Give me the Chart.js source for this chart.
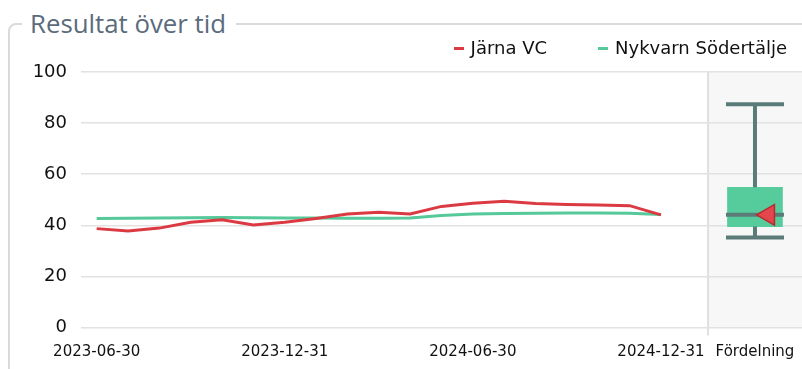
<!DOCTYPE html>
<html lang="sv">
<head>
<meta charset="utf-8">
<title>Resultat över tid</title>
<script src="https://cdn.jsdelivr.net/npm/chart.js@4.4.1/dist/chart.umd.min.js"></script>
<style>
  html, body { margin: 0; padding: 0; background: #fff; overflow: hidden; width: 802px; height: 369px; }
  .frame { position: absolute; left: 8px; top: 23px; width: 1000px; height: 1000px;
           border: 2px solid #dadada; border-radius: 8px; box-sizing: border-box; }
  .frame-title { position: absolute; left: 22px; top: 8px; padding: 0 10px 0 8px; background: #fff;
                 font: 25.8px "Open Sans", sans-serif; line-height: 30px; color: #5b6b7c; white-space: nowrap; }
  #legend { position: absolute; right: 15px; top: 38px; display: flex; gap: 51px;
            font: 18px "DejaVu Sans", sans-serif; line-height: 20px; color: #111; }
  #legend .item { display: flex; align-items: center; white-space: nowrap; }
  #legend .swatch { width: 10px; height: 3px; margin-right: 7px; }
  #wrap { position: absolute; left: 0; top: 0; width: 802px; height: 369px; }
</style>
</head>
<body>
<div class="frame"></div>
<div class="frame-title">Resultat över tid</div>
<div id="wrap"><canvas id="chart"></canvas></div>
<div id="legend"></div>
<script>
// Month-end reporting dates
const dates = [
  '2023-06-30', '2023-07-31', '2023-08-31', '2023-09-30', '2023-10-31', '2023-11-30',
  '2023-12-31', '2024-01-31', '2024-02-29', '2024-03-31', '2024-04-30', '2024-05-31',
  '2024-06-30', '2024-07-31', '2024-08-31', '2024-09-30', '2024-10-31', '2024-11-30',
  '2024-12-31'
];
const jarnaVC = [38.7, 37.8, 38.9, 41.2, 42.2, 40.1, 41.2, 42.7, 44.4, 45.1, 44.4, 47.4,
                 48.6, 49.4, 48.5, 48.1, 47.9, 47.7, 44.1];
const nykvarnSodertalje = [42.7, 42.8, 42.9, 43.0, 43.1, 43.0, 42.9, 42.9, 42.8, 42.8, 42.9, 43.8,
                           44.4, 44.6, 44.7, 44.8, 44.8, 44.7, 44.2];
const tickDates = ['2023-06-30', '2023-12-31', '2024-06-30', '2024-12-31'];
const distLabel = 'Fördelning';
// Distribution across units: min, q1, median, q3, max
const fordelning = [35.2, 39.5, 44.1, 54.9, 87.4];
const yTicks = [0, 20, 40, 60, 80, 100];

// Layout of the x axis (month index units)
const X_MIN = -0.5, X_MAX = 22.5;
const DIVIDER_X = 19.5;      // separates the time series from the distribution panel
const DIST_X = 21;           // centre of the distribution box
const MARKER_OFFSET = 0.43;  // current-value marker sits just right of the box centre

const RED = '#dc3a43', GREEN = '#55c99a', BOX = '#56cc9d', WHISKER = '#5b7b79';

const distributionPanel = {
  id: 'distributionPanel',
  beforeDraw(chart) {
    const { ctx, chartArea: { top, bottom, right }, scales: { x } } = chart;
    const left = x.getPixelForValue(DIVIDER_X);
    ctx.save();
    ctx.fillStyle = '#f7f7f7';
    ctx.fillRect(left, top, right - left, bottom - top);
    ctx.restore();
  }
};

const boxWhiskers = {
  id: 'boxWhiskers',
  afterDatasetDraw(chart, args) {
    if (args.meta.type !== 'bar') return;
    const { ctx, scales: { x, y } } = chart;
    const [mn, q1, med, q3, mx] = fordelning;
    const cx = x.getPixelForValue(DIST_X);
    const half = 29;
    ctx.save();
    ctx.strokeStyle = WHISKER;
    ctx.lineWidth = 4;
    ctx.beginPath();
    ctx.moveTo(cx, y.getPixelForValue(q3)); ctx.lineTo(cx, y.getPixelForValue(mx));
    ctx.moveTo(cx - half, y.getPixelForValue(mx)); ctx.lineTo(cx + half, y.getPixelForValue(mx));
    ctx.moveTo(cx, y.getPixelForValue(q1)); ctx.lineTo(cx, y.getPixelForValue(mn));
    ctx.moveTo(cx - half, y.getPixelForValue(mn)); ctx.lineTo(cx + half, y.getPixelForValue(mn));
    ctx.moveTo(cx - half, y.getPixelForValue(med)); ctx.lineTo(cx + half, y.getPixelForValue(med));
    ctx.stroke();
    ctx.restore();
  }
};

const series = [
  { label: 'Järna VC', values: jarnaVC, color: RED },
  { label: 'Nykvarn Södertälje', values: nykvarnSodertalje, color: GREEN }
];

const datasets = series.map(s => ({
  type: 'line',
  label: s.label,
  data: s.values.map((v, i) => ({ x: i, y: v })),
  borderColor: s.color,
  backgroundColor: s.color,
  borderWidth: 3,
  pointRadius: 0,
  tension: 0,
  fill: false
}));

datasets.push({
  type: 'line',
  label: 'Järna VC (senaste)',
  data: [{ x: DIST_X + MARKER_OFFSET, y: jarnaVC[jarnaVC.length - 1] }],
  showLine: false,
  pointStyle: 'triangle',
  rotation: -90,
  pointRadius: 12,
  backgroundColor: '#e3464c',
  borderColor: '#b8292f',
  borderWidth: 1.5
});

datasets.push({
  type: 'bar',
  label: distLabel,
  data: [{ x: DIST_X, y: [fordelning[1], fordelning[3]] }],
  backgroundColor: BOX,
  borderWidth: 0,
  barThickness: 55
});

new Chart(document.getElementById('chart'), {
  type: 'line',
  data: { datasets },
  plugins: [distributionPanel, boxWhiskers],
  options: {
    responsive: true,
    maintainAspectRatio: false,
    animation: false,
    events: [],
    layout: { autoPadding: false, padding: { top: 72, right: 0, bottom: 0.5, left: 0 } },
    plugins: { legend: { display: false }, tooltip: { enabled: false } },
    scales: {
      x: {
        type: 'linear',
        min: X_MIN,
        max: X_MAX,
        offset: false,
        afterBuildTicks: axis => {
          axis.ticks = tickDates.map(d => ({ value: dates.indexOf(d) }))
            .concat([{ value: DIVIDER_X }, { value: DIST_X }]);
        },
        ticks: {
          autoSkip: false,
          maxRotation: 0,
          padding: 7.5,
          color: '#111',
          font: { family: 'DejaVu Sans', size: 15 },
          callback: v => v === DIST_X ? distLabel : (v === DIVIDER_X ? '' : dates[v])
        },
        grid: {
          offset: false,
          color: c => (c.tick && c.tick.value === DIVIDER_X) ? '#e0e0e0' : 'rgba(0,0,0,0)',
          lineWidth: 2,
          tickLength: 8
        },
        border: { display: false }
      },
      y: {
        min: 0,
        max: 100,
        afterBuildTicks: axis => { axis.ticks = yTicks.map(v => ({ value: v })); },
        afterFit: axis => { axis.width = 81; },
        ticks: { padding: 14, color: '#111', font: { family: 'DejaVu Sans', size: 18 } },
        grid: { color: '#e2e2e2', lineWidth: 1.5, drawTicks: false },
        border: { display: false }
      }
    }
  }
});

// Legend for the two time series
const legend = document.getElementById('legend');
series.forEach(s => {
  const item = document.createElement('span');
  item.className = 'item';
  const sw = document.createElement('span');
  sw.className = 'swatch';
  sw.style.background = s.color;
  item.appendChild(sw);
  item.appendChild(document.createTextNode(s.label));
  legend.appendChild(item);
});
</script>
</body>
</html>
